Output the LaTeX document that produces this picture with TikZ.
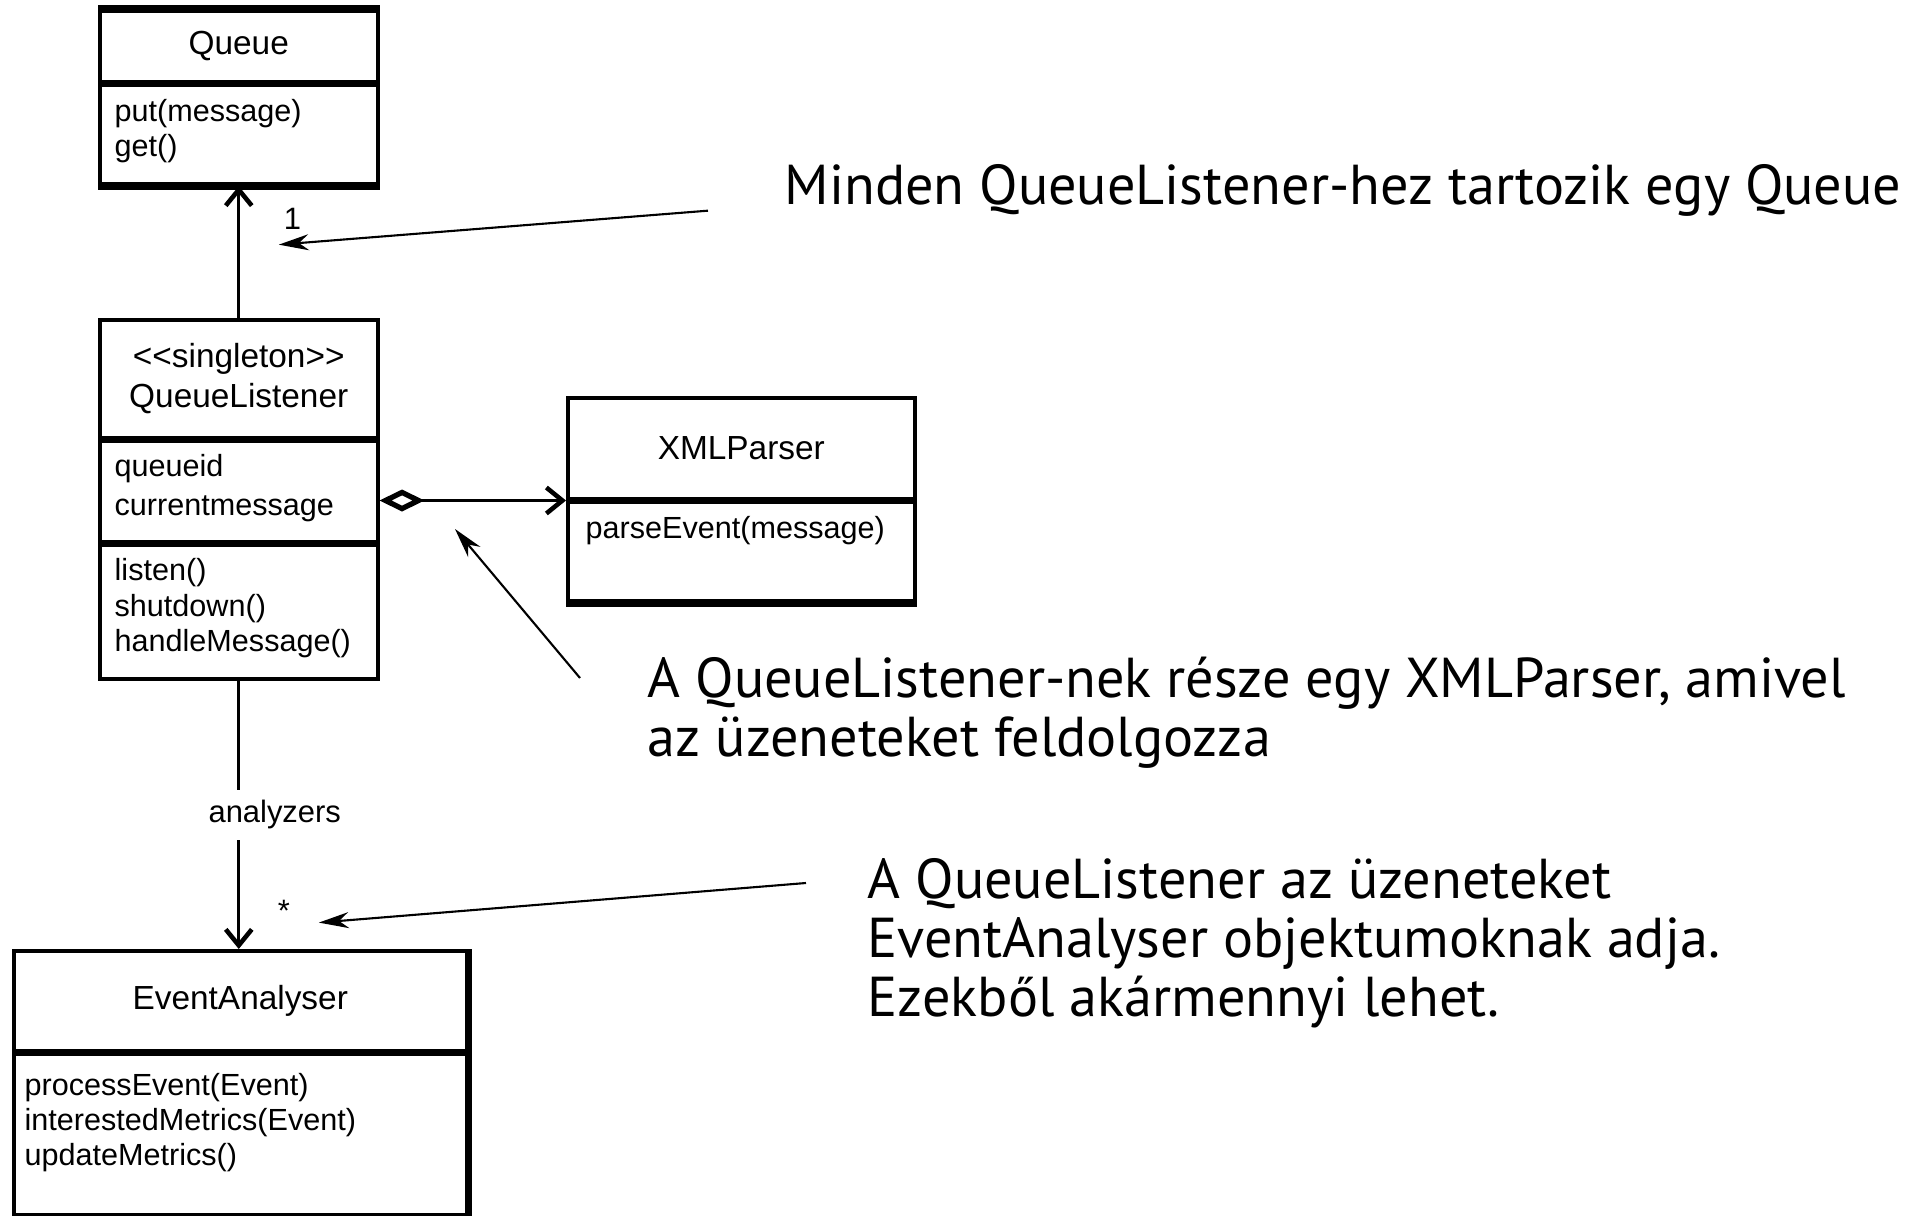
\documentclass[tikz,border=0pt]{standalone}
\usepackage{fontspec}
\setmainfont{Liberation Sans}
\newfontfamily\notefont{PT Sans}
\usetikzlibrary{positioning, arrows.meta}

\begin{document}
\begin{tikzpicture}[
	classbox/.style = {draw, line width=1pt, inner sep=0pt, align=center, font=\fontsize{9.5}{11.5}\selectfont},
	member/.style = {inner sep=0pt, anchor=north west, align=left, font=\fontsize{8.7}{10}\selectfont},
	heavy/.style = {line width=2.2pt},
	assoc/.style = {line width=0.85pt, -{Straight Barb[length=0.16cm, width=0.26cm, line width=1.3pt]}},
	aggr/.style = {line width=0.85pt, {Diamond[open, length=0.45cm, width=0.22cm, line width=1.5pt]}-{Straight Barb[length=0.16cm, width=0.26cm, line width=1.3pt]}},
	rolename/.style = {inner sep=1pt, font=\fontsize{8.8}{10}\selectfont},
	note/.style = {line width=0.6pt, -{Stealth[length=0.3cm, width=0.16cm]}},
	notetext/.style = {inner sep=0pt, anchor=north west, align=left, font=\notefont\fontsize{16}{16.8}\selectfont}
	]

% page size
	\useasboundingbox (0,0) rectangle (19.2,-12.16);

% class Queue
	\node[classbox, minimum width=2.78cm, minimum height=0.71cm, anchor=north west] (queue) at (0.98,-0.09) {Queue};
	\node[classbox, minimum width=2.78cm, minimum height=0.99cm, below=0pt of queue] (queueops) {};
	\node[member, below right=0.15cm and 0.16cm of queueops.north west] (queuemeth) {put(message)\\get()};
	\draw[heavy] (queue.north west) -- (queue.north east);
	\draw[heavy] (queueops.south west) -- (queueops.south east);

% class QueueListener
	\node[classbox, minimum width=2.78cm, minimum height=1.18cm, anchor=north west] (ql) at (0.98,-3.18) {{<}{<}singleton{>}{>}\\QueueListener};
	\node[classbox, minimum width=2.78cm, minimum height=1.0cm, below=0pt of ql] (qlattr) {};
	\node[classbox, minimum width=2.78cm, minimum height=1.34cm, below=0pt of qlattr] (qlops) {};
	\node[member, below right=0.14cm and 0.16cm of qlattr.north west] (qlattrtext) {queueid\\[1pt]currentmessage};
	\node[member, below right=0.15cm and 0.16cm of qlops.north west] (qlmeth) {listen()\\shutdown()\\handleMessage()};

% class XMLParser
	\node[classbox, minimum width=3.47cm, minimum height=1.01cm, anchor=north west] (xml) at (5.66,-3.96) {XMLParser};
	\node[classbox, minimum width=3.47cm, minimum height=0.99cm, below=0pt of xml] (xmlops) {};
	\node[member, below right=0.15cm and 0.19cm of xmlops.north west] (xmlmeth) {parseEvent(message)};
	\draw[heavy] (xmlops.south west) -- (xmlops.south east);

% class EventAnalyser
	\node[classbox, minimum width=4.53cm, minimum height=1.0cm, anchor=north west] (ea) at (0.12,-9.49) {EventAnalyser};
	\node[classbox, minimum width=4.53cm, minimum height=1.6cm, below=0pt of ea] (eaops) {};
	\node[member, below right=0.2cm and 0.12cm of eaops.north west] (eameth) {processEvent(Event)\\interestedMetrics(Event)\\updateMetrics()};
	\draw[heavy] (ea.north east) -- (eaops.south east);

% associations
	\draw[assoc] (ql.north) -- (queueops.south) node[rolename, pos=0.75, right=0.4cm] (one) {1};
	\draw[aggr] (xml.south west -| qlattr.east) -- (xml.south west);
	\draw[assoc] (qlops.south) -- (qlops.south |- ea.north)
		node[rolename, pos=0.5, xshift=0.36cm, fill=white, inner ysep=3pt] (analyzers) {analyzers}
		node[rolename, pos=0.857, right=0.34cm] (star) {*};

% notes
	\node[notetext] (noteq) at (7.84,-1.64) {Minden QueueListener-hez tartozik egy Queue};
	\node[notetext] (notexml) at (6.47,-6.56) {A QueueListener-nek része egy XMLParser, amivel\\az üzeneteket feldolgozza};
	\node[notetext] (noteea) at (8.67,-8.58) {A QueueListener az üzeneteket\\EventAnalyser objektumoknak adja.\\Ezekből akármennyi lehet.};

	\coordinate (parttip) at (4.55,-5.29);
	\draw[note] ([xshift=-0.76cm, yshift=-0.2cm]noteq.west) -- ([yshift=-0.1cm]one.south west);
	\draw[note] ([xshift=-0.67cm, yshift=-0.22cm]notexml.north west) -- (parttip);
	\draw[note] ([xshift=-0.61cm, yshift=-0.25cm]noteea.north west) -- ([xshift=0.24cm, yshift=-0.12cm]star.east);

\end{tikzpicture}
\end{document}
